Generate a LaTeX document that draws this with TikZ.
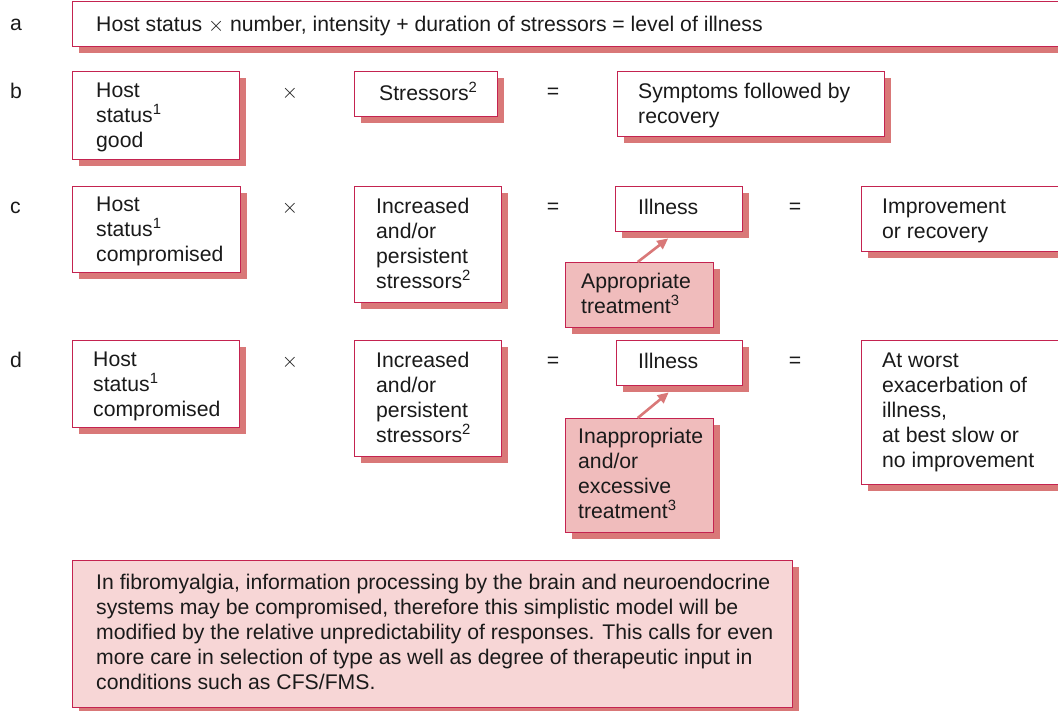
\documentclass[tikz,border=0pt]{standalone}
\usepackage{fontspec}
\setmainfont{Liberation Sans}
\usetikzlibrary{shadows,arrows.meta,calc}
\definecolor{bord}{HTML}{C42350}
\definecolor{shc}{HTML}{D97878}
\definecolor{trfill}{HTML}{F0BCBC}
\definecolor{notefill}{HTML}{F7D6D6}
\definecolor{txt}{HTML}{1A1A1A}
\tikzset{
  bx/.style={draw=bord, line width=1.4pt, fill=white, anchor=north west, inner sep=0pt,
    drop shadow={shadow xshift=6pt, shadow yshift=-6pt, fill=shc, opacity=1}},
  trbx/.style={bx, fill=trfill},
  notebx/.style={bx, fill=notefill},
  tx/.style={anchor=base west, align=left, inner sep=0pt, text=txt},
  lab/.style={anchor=base west, inner sep=0pt, text=txt},
  op/.style={anchor=base, inner sep=0pt, text=txt},
  arr/.style={draw=shc, line width=2.6pt, -{Triangle[length=11pt,width=10pt]}}
}
\newcommand{\tms}{\ensuremath{\times}}
\begin{document}
\begin{tikzpicture}[x=1pt,y=-1pt,font=\fontsize{21.2}{25}\selectfont]
\useasboundingbox (0,0) rectangle (1058,710);
% row labels
\node[lab] (la) at (10,30) {a};
\node[lab] (lb) at (10,98) {b};
\node[lab] (lc) at (10,213) {c};
\node[lab] (ld) at (10,367) {d};
% row a
\node[bx, minimum width=1010pt, minimum height=45pt] (a1) at (72,1) {};
\node[tx] (a1t) at ($(a1.north west)+(24,30)$) {Host status \tms\ number, intensity + duration of stressors = level of illness};
% row b
\node[bx, minimum width=167pt, minimum height=88pt] (b1) at (72,71) {};
\node[tx] (b1t) at ($(b1.north west)+(24,76.5)$) {Host\\status\textsuperscript{1}\\good};
\node[op] (bx1) at (290,98) {\tms};
\node[bx, minimum width=143pt, minimum height=45pt] (b2) at (354,71) {};
\node[tx] (b2t) at ($(b2.north west)+(25,29)$) {Stressors\textsuperscript{2}};
\node[op] (beq1) at (553,98) {=};
\node[bx, minimum width=267pt, minimum height=65pt] (b3) at (617,71) {};
\node[tx] (b3t) at ($(b3.north west)+(21,52.5)$) {Symptoms followed by\\recovery};
% row c
\node[bx, minimum width=168pt, minimum height=86pt] (c1) at (72,186) {};
\node[tx] (c1t) at ($(c1.north west)+(24,75.5)$) {Host\\status\textsuperscript{1}\\compromised};
\node[op] (cx1) at (290,213) {\tms};
\node[bx, minimum width=147pt, minimum height=116pt] (c2) at (354,186) {};
\node[tx] (c2t) at ($(c2.north west)+(22,102)$) {Increased\\and/or\\persistent\\stressors\textsuperscript{2}};
\node[op] (ceq1) at (553,213) {=};
\node[bx, minimum width=127pt, minimum height=45pt] (c3) at (615,186) {};
\node[tx] (c3t) at ($(c3.north west)+(23,28)$) {Illness};
\node[op] (ceq2) at (795,213) {=};
\node[bx, minimum width=250pt, minimum height=65pt] (c4) at (861,186) {};
\node[tx] (c4t) at ($(c4.north west)+(21,52)$) {Improvement\\or recovery};
\node[trbx, minimum width=148pt, minimum height=65pt] (c5) at (565,262) {};
\node[tx] (c5t) at ($(c5.north west)+(16,51.5)$) {Appropriate\\treatment\textsuperscript{3}};
\coordinate (c3e) at ([xshift=-11pt,yshift=-6pt]c3.south);
\draw[arr] ([xshift=-2pt]c5.north) -- (c3e);
% row d
\node[bx, minimum width=167pt, minimum height=87pt] (d1) at (72,340) {};
\node[tx] (d1t) at ($(d1.north west)+(21,76)$) {Host\\status\textsuperscript{1}\\compromised};
\node[op] (dx1) at (290,367) {\tms};
\node[bx, minimum width=147pt, minimum height=116pt] (d2) at (354,340) {};
\node[tx] (d2t) at ($(d2.north west)+(22,102)$) {Increased\\and/or\\persistent\\stressors\textsuperscript{2}};
\node[op] (deq1) at (553,367) {=};
\node[bx, minimum width=126pt, minimum height=45pt] (d3) at (616,340) {};
\node[tx] (d3t) at ($(d3.north west)+(22,28)$) {Illness};
\node[op] (deq2) at (795,367) {=};
\node[bx, minimum width=250pt, minimum height=144pt] (d4) at (861,340) {};
\node[tx] (d4t) at ($(d4.north west)+(21,127.5)$) {At worst\\exacerbation of\\illness,\\at best slow or\\no improvement};
\node[trbx, minimum width=148pt, minimum height=114pt] (d5) at (565,418) {};
\node[tx] (d5t) at ($(d5.north west)+(13,100)$) {Inappropriate\\and/or\\excessive\\treatment\textsuperscript{3}};
\coordinate (d3e) at ([xshift=-11pt,yshift=-6pt]d3.south);
\draw[arr] ([xshift=-2pt]d5.north) -- (d3e);
% note
\node[notebx, minimum width=720pt, minimum height=147pt] (n1) at (72,560) {};
\node[tx] (n1t) at ($(n1.north west)+(24,129)$) {In fibromyalgia, information processing by the brain and neuroendocrine\\systems may be compromised, therefore this simplistic model will be\\modified by the relative unpredictability of responses. This calls for even\\more care in selection of type as well as degree of therapeutic input in\\conditions such as CFS/FMS.};
\end{tikzpicture}
\end{document}
